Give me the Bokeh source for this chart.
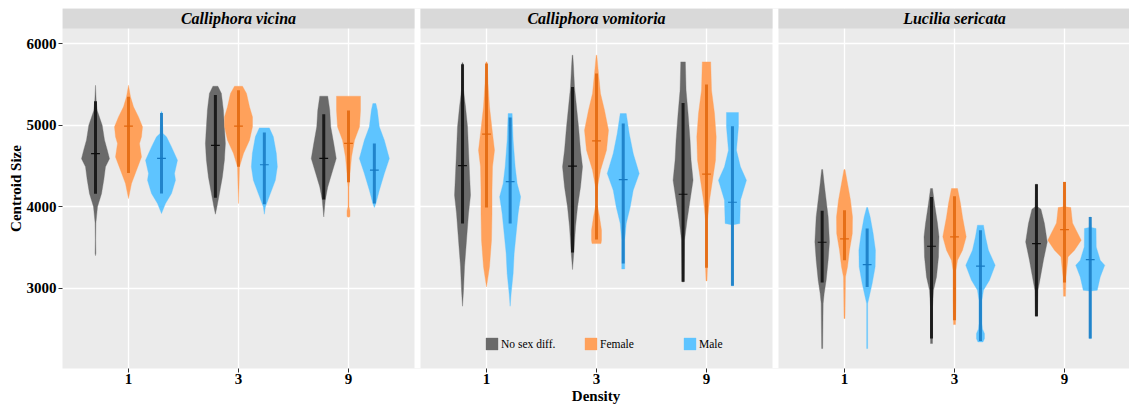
from bokeh.plotting import figure
from bokeh.models import FixedTicker, Legend, LegendItem, Range1d
from bokeh.embed import file_html
from bokeh.resources import INLINE
from bokeh.core.properties import value

# ---------------- data ----------------
SPECIES = ["Calliphora vicina", "Calliphora vomitoria", "Lucilia sericata"]
DENSITIES = ["1", "3", "9"]
SEXES = ["No sex diff.", "Female", "Male"]
Y_TICKS = [3000, 4000, 5000, 6000]

# violin profiles: (centroid size, relative density half-width)
vicina_1_nosex = [(5490, 0), (5300, 0.7), (5180, 1.7), (5000, 6.7), (4820, 9), (4700, 11.7), (4590, 14), (4490, 10), (4330, 8.3), (4160, 6), (4000, 2), (3800, 0.4), (3600, 0.2), (3430, 0.4), (3400, 0)]
vicina_1_female = [(5490, 0), (5348, 2), (5225, 5), (5102, 10), (4980, 14), (4857, 13), (4775, 11), (4610, 13), (4448, 8), (4284, 3), (4100, 0)]
vicina_1_male = [(5164, 0.5), (4898, 1.5), (4857, 5), (4734, 10), (4570, 16), (4407, 13), (4325, 14), (4161, 10), (4039, 4), (3916, 0)]
vicina_3_nosex = [(5478, 2.5), (5389, 6), (5184, 8), (4980, 9), (4775, 10), (4570, 9), (4366, 7), (4161, 4), (3998, 1.5), (3908, 0)]
vicina_3_female = [(5478, 4), (5389, 8), (5225, 11), (5102, 14), (4980, 14), (4816, 11), (4652, 5), (4489, 1), (4243, 0.5), (4039, 0)]
vicina_3_male = [(4967, 5), (4857, 9), (4652, 12), (4489, 13), (4325, 11), (4161, 6), (3998, 1), (3908, 0)]
vicina_9_nosex = [(5356, 4), (5184, 6), (4980, 7), (4775, 10), (4591, 12.5), (4407, 8), (4243, 4), (4080, 1.5), (3875, 0)]
vicina_9_female = [(5356, 12), (5184, 12), (4980, 11), (4816, 6), (4610, 3), (4407, 1.5), (4243, 0.5), (4000, 0.5), (3950, 1.5), (3880, 1.5), (3870, 0)]
vicina_9_male = [(5266, 1.5), (5184, 3), (4980, 5), (4816, 10), (4591, 15), (4407, 10), (4202, 5), (4039, 1.5), (3990, 0)]

vomitoria_1_nosex = [(5765, 0.5), (5430, 1), (5225, 3), (4980, 5), (4693, 6), (4407, 7), (4141, 8), (3916, 6), (3589, 4), (3262, 2), (2976, 1), (2779, 0)]
vomitoria_1_female = [(5777, 0.5), (5511, 1.5), (5225, 3), (4898, 6), (4693, 8), (4489, 6), (4202, 5.5), (3916, 5.5), (3589, 5), (3262, 3), (3016, 0)]
vomitoria_1_male = [(5143, 2), (4816, 3), (4489, 5), (4284, 7), (4121, 10.5), (3916, 8), (3671, 6), (3425, 4), (3180, 3), (2935, 1), (2779, 0)]
vomitoria_3_nosex = [(5859, 0.3), (5716, 1), (5470, 2), (5225, 4), (4980, 6), (4693, 8), (4489, 10), (4243, 8), (3998, 5), (3753, 3), (3466, 1.5), (3229, 0)]
vomitoria_3_female = [(5859, 0.3), (5634, 2), (5388, 4), (5184, 8), (4939, 12), (4693, 10), (4448, 4), (4243, 1), (4039, 0.5), (3875, 3), (3712, 5), (3589, 5), (3548, 4.5)]
vomitoria_3_male = [(5143, 3), (4898, 6), (4652, 10), (4407, 16), (4202, 10), (3998, 7), (3794, 3), (3589, 1.5), (3466, 1.5), (3237, 1.5)]
vomitoria_9_nosex = [(5777, 2.3), (5430, 3), (5143, 5), (4816, 7), (4570, 8), (4325, 10), (4080, 7), (3835, 4), (3589, 1.5), (3078, 1)]
vomitoria_9_female = [(5777, 4.2), (5430, 5), (5143, 8), (4857, 9.7), (4570, 9), (4325, 6), (4080, 3), (3835, 1), (3262, 1), (3090, 0.5)]
vomitoria_9_male = [(5156, 6), (4980, 6), (4693, 4), (4489, 8), (4325, 14), (4080, 8), (3794, 7.3), (3780, 1), (3029, 1)]

lucilia_1_nosex = [(4456, 0.5), (4284, 2), (4080, 4), (3875, 6), (3568, 7.3), (3343, 6), (3098, 4), (2934, 2), (2812, 1), (2260, 0.5)]
lucilia_1_female = [(4456, 0.5), (4284, 3), (4080, 6), (3875, 8), (3671, 7.8), (3466, 5), (3262, 3), (3139, 1), (2628, 0.5)]
lucilia_1_male = [(3990, 0.5), (3875, 3), (3671, 6), (3466, 8.3), (3262, 8), (3057, 5), (2893, 2), (2812, 0.5), (2260, 0.5)]
lucilia_3_nosex = [(4223, 1), (4039, 3), (3793, 6), (3630, 7.5), (3384, 7), (3139, 5), (2975, 2), (2771, 1), (2321, 1)]
lucilia_3_female = [(4223, 3), (4039, 6), (3875, 8), (3630, 11.7), (3466, 8), (3343, 3), (3221, 1.5), (2853, 1.5), (2554, 1)]
lucilia_3_male = [(3773, 3), (3630, 5), (3466, 8), (3282, 14.7), (3098, 9), (2975, 3), (2853, 1.5), (2566, 1.5), (2500, 2), (2444, 4), (2380, 4), (2341, 2.5)]
lucilia_9_nosex = [(4276, 0.8), (4000, 1.2), (3970, 4.5), (3793, 8), (3568, 10.8), (3343, 7), (3139, 4), (2975, 1.5), (2656, 1)]
lucilia_9_female = [(4304, 1), (4000, 1.2), (3990, 6.3), (3800, 8), (3589, 16.7), (3466, 10), (3384, 3.5), (3139, 1.5), (2902, 1)]
lucilia_9_male = [(3875, 0.5), (3745, 1), (3732, 5.8), (3507, 6), (3343, 10), (3282, 14.5), (3139, 10), (2975, 7), (2967, 1), (2382, 1)]

# summary lines: order = density 1 (no sex, female, male), density 3 (...), density 9 (...)
vicina_low = [4160, 4415, 4161, 4110, 4489, 4030, 4088, 4300, 4039]
vicina_high = [5295, 5348, 5151, 5370, 5430, 4910, 5133, 5180, 4777]
vicina_mid = [4652, 4988, 4593, 4752, 4988, 4515, 4593, 4777, 4448]
vomitoria_low = [3794, 3990, 3794, 3438, 3597, 3303, 3078, 3250, 3029]
vomitoria_high = [5748, 5757, 5094, 5470, 5634, 5021, 5274, 5499, 4988]
vomitoria_mid = [4505, 4890, 4309, 4497, 4808, 4333, 4153, 4399, 4055]
lucilia_low = [3069, 3343, 3016, 2382, 2607, 2353, 2656, 3070, 2382]
lucilia_high = [3949, 3957, 3732, 4120, 4129, 3711, 4276, 4304, 3875]
lucilia_mid = [3564, 3605, 3290, 3515, 3630, 3270, 3548, 3720, 3352]

PROFILES = [
    [vicina_1_nosex, vicina_1_female, vicina_1_male, vicina_3_nosex, vicina_3_female, vicina_3_male, vicina_9_nosex, vicina_9_female, vicina_9_male],
    [vomitoria_1_nosex, vomitoria_1_female, vomitoria_1_male, vomitoria_3_nosex, vomitoria_3_female, vomitoria_3_male, vomitoria_9_nosex, vomitoria_9_female, vomitoria_9_male],
    [lucilia_1_nosex, lucilia_1_female, lucilia_1_male, lucilia_3_nosex, lucilia_3_female, lucilia_3_male, lucilia_9_nosex, lucilia_9_female, lucilia_9_male],
]
LOWS = [vicina_low, vomitoria_low, lucilia_low]
HIGHS = [vicina_high, vomitoria_high, lucilia_high]
MIDS = [vicina_mid, vomitoria_mid, lucilia_mid]

# ---------------- layout / style ----------------
PANEL_W = 3.2                 # discrete axis: 3 categories + 0.6 expansion each side
GAP = 6 / 110.0               # gap between facets (x units)
DENS_SCALE = 1 / 110.0        # relative density -> x units
PANEL_X0 = [k * (PANEL_W + GAP) for k in range(3)]
# dodge offsets (left, right) per panel & density
DODGE = [
    [(-0.30, 0.30), (-0.21, 0.235), (-0.225, 0.235)],
    [(-0.218, 0.215), (-0.218, 0.243), (-0.213, 0.236)],
    [(-0.203, 0.206), (-0.209, 0.236), (-0.255, 0.234)],
]
FILL = ["#6A6A6A", "#FFA15B", "#5EC4FF"]
LINE = ["#0D0D0D", "#E2660C", "#1679C2"]
Y0, Y1 = 2015, 6432
PLOT_TOP = 6186
FONT = "Liberation Serif"

p = figure(width=1129, height=415, output_backend="svg", toolbar_location=None,
           x_range=Range1d(0, 1067 / 110.0), y_range=Range1d(Y0, Y1),
           min_border_left=62, min_border_right=0, min_border_top=8, min_border_bottom=47,
           background_fill_color="#EBEBEB", border_fill_color="white", outline_line_color=None)

# ticks
xt = []
overrides = {}
for k in range(3):
    for j in range(3):
        xv = round(PANEL_X0[k] + 0.6 + j, 6)
        xt.append(xv)
        overrides[xv] = DENSITIES[j]
p.xaxis.ticker = FixedTicker(ticks=xt)
p.xaxis.major_label_overrides = overrides
p.yaxis.ticker = FixedTicker(ticks=Y_TICKS)
for ax in (p.xaxis, p.yaxis):
    ax.axis_line_color = None
    ax.major_tick_line_color = "#333333"
    ax.major_tick_out = 4
    ax.major_tick_in = 0
    ax.minor_tick_line_color = None
    ax.major_label_text_font = FONT
    ax.major_label_text_font_style = "bold"
    ax.major_label_text_font_size = "15px"
    ax.major_label_text_color = "black"
    ax.axis_label_text_font = FONT
    ax.axis_label_text_font_style = "bold"
    ax.axis_label_text_font_size = "15px"
    ax.axis_label_text_color = "black"
p.yaxis.major_label_standoff = 2
p.xaxis.major_label_standoff = 1
p.yaxis.axis_label = "Centroid Size"
p.xaxis.axis_label = "Density"
p.yaxis.axis_label_standoff = 0
p.xaxis.axis_label_standoff = 1
p.grid.grid_line_color = "white"
p.grid.grid_line_width = 1.3

# facet gaps and strips
p.quad(left=[PANEL_X0[k] + PANEL_W for k in range(2)], right=[PANEL_X0[k + 1] for k in range(2)],
       bottom=Y0, top=Y1, fill_color="white", line_color=None)
p.quad(left=PANEL_X0, right=[x + PANEL_W for x in PANEL_X0], bottom=PLOT_TOP, top=Y1,
       fill_color="#D9D9D9", line_color=None)
p.text(x=[x + PANEL_W / 2 for x in PANEL_X0], y=[(PLOT_TOP + Y1) / 2] * 3, text=SPECIES,
       text_font=value(FONT), text_font_style="bold italic", text_font_size=value("16px"),
       text_align="center", text_baseline="middle", text_color="black")

# violins
renderers = []
for s in range(3):
    xs, ys = [], []
    lx, ly0, ly1, mid = [], [], [], []
    for k in range(3):
        for j in range(3):
            idx = j * 3 + s
            off = 0.0 if s == 1 else DODGE[k][j][0 if s == 0 else 1]
            xc = PANEL_X0[k] + 0.6 + j + off
            prof = PROFILES[k][idx]
            vals = [v for v, _ in prof]
            ws = [w * DENS_SCALE for _, w in prof]
            xs.append([xc + w for w in ws] + [xc - w for w in reversed(ws)])
            ys.append(vals + vals[::-1])
            lx.append(xc)
            ly0.append(LOWS[k][idx])
            ly1.append(HIGHS[k][idx])
            mid.append(MIDS[k][idx])
    r = p.patches(xs=xs, ys=ys, fill_color=FILL[s], line_color=FILL[s], line_width=0.6, line_alpha=0.6)
    renderers.append(r)
    p.segment(x0=lx, y0=ly0, x1=lx, y1=ly1, line_color=LINE[s], line_width=3, line_alpha=0.85)
    p.segment(x0=[x - 0.04 for x in lx], y0=mid, x1=[x + 0.04 for x in lx], y1=mid,
              line_color=LINE[s], line_width=1.2)

legend = Legend(items=[LegendItem(label=SEXES[s], renderers=[renderers[s]]) for s in range(3)],
                orientation="horizontal", location=(422, 17), glyph_width=15, glyph_height=15,
                label_width=80, spacing=2, label_standoff=2, padding=0, margin=0,
                border_line_alpha=0, background_fill_alpha=0,
                label_text_font=FONT, label_text_font_size="11.5px", label_text_color="black")
p.add_layout(legend)

open("out.html", "w").write(file_html(p, INLINE))
